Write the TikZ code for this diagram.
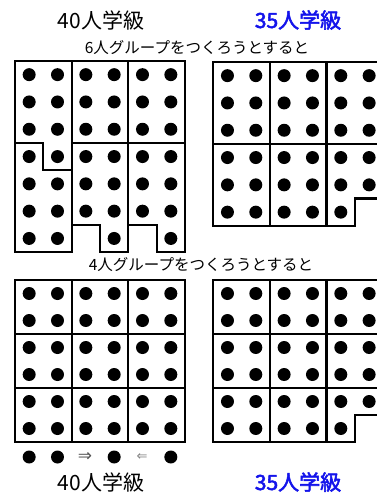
\documentclass[tikz,border=0pt]{standalone}
\usepackage{fontspec}
\newfontfamily\jp{Noto Sans CJK JP}
\newfontfamily\jpb[FakeBold=2.5]{Noto Sans CJK JP}
\newfontfamily\dv{DejaVu Sans}
\definecolor{titleblue}{RGB}{20,20,235}
\definecolor{arrowdark}{RGB}{85,85,85}
\definecolor{arrowlight}{RGB}{130,130,130}
\begin{document}
\begin{tikzpicture}[x=1pt,y=-1pt,
  grid/.style={line width=2.3pt, line join=miter, line cap=rect},
  title/.style={font=\jp\fontsize{21}{21}\selectfont, inner sep=0pt},
  titleb/.style={font=\jpb\fontsize{21}{21}\selectfont, text=titleblue, inner sep=0pt},
  sub/.style={font=\jp\fontsize{15.5}{15.5}\selectfont, inner sep=0pt}]
\useasboundingbox (0,0) rectangle (377,493);
\clip (0,0) rectangle (377,493);

% titles
\node[title]  (t40top) at (101,20) {40人学級};
\node[titleb] (t35top) at (298,20) {35人学級};
\node[sub]    (sub6)   at (197,48) {6人グループをつくろうとすると};
\node[sub]    (sub4)   at (201,265) {4人グループをつくろうとすると};
\node[title]  (t40bot) at (101,482) {40人学級};
\node[titleb] (t35bot) at (298,482) {35人学級};

% ---------- top-left: 40 students, groups of 6
\draw[grid] (15,61) -- (185,61) -- (185,252.1) -- (156.67,252.1) -- (156.67,224.8)
  -- (128.33,224.8) -- (128.33,252.1) -- (100,252.1) -- (100,224.8) -- (71.67,224.8)
  -- (71.67,252.1) -- (15,252.1) -- cycle;
\draw[grid] (71.67,61) -- (71.67,252.1);
\draw[grid] (128.33,61) -- (128.33,252.1);
\draw[grid] (15,142.9) -- (43.33,142.9) -- (43.33,170.2) -- (71.67,170.2);
\draw[grid] (71.67,142.9) -- (185,142.9);
\foreach \r in {1,...,6}{\foreach \c in {1,...,6}{
  \fill (15+\c*28.333-14.167, 61+\r*27.3-13.65) circle[radius=6.5pt];}}
\foreach \c in {1,2,4,6}{\fill (15+\c*28.333-14.167, 61+7*27.3-13.65) circle[radius=6.5pt];}

% ---------- top-right: 35 students, groups of 6
\draw[grid] (213.3,62) -- (383.3,62) -- (383.3,198.5) -- (355,198.5) -- (355,225.8)
  -- (213.3,225.8) -- cycle;
\draw[grid] (270,62) -- (270,225.8);
\draw[grid] (326.6,62) -- (326.6,225.8);
\draw[grid] (213.3,143.9) -- (383.3,143.9);
\foreach \r in {1,...,5}{\foreach \c in {1,...,6}{
  \fill (213.3+\c*28.333-14.167, 62+\r*27.3-13.65) circle[radius=6.5pt];}}
\foreach \c in {1,...,5}{\fill (213.3+\c*28.333-14.167, 62+6*27.3-13.65) circle[radius=6.5pt];}

% ---------- bottom-left: 40 students, groups of 4
\draw[grid] (15,280) rectangle (185,442);
\draw[grid] (71.67,280) -- (71.67,442);
\draw[grid] (128.33,280) -- (128.33,442);
\draw[grid] (15,334) -- (185,334);
\draw[grid] (15,388) -- (185,388);
\foreach \r in {1,...,6}{\foreach \c in {1,...,6}{
  \fill (15+\c*28.333-14.167, 280+\r*27-13.5) circle[radius=6.5pt];}}
\foreach \c in {1,2,4,6}{\fill (15+\c*28.333-14.167, 457) circle[radius=6.5pt];}
\node[font=\dv\fontsize{17}{17}\selectfont, text=arrowdark, inner sep=0pt] (arrR) at (85,457) {⇒};
\node[font=\dv\fontsize{13}{13}\selectfont, text=arrowlight, inner sep=0pt] (arrL) at (142,457) {⇐};

% ---------- bottom-right: 35 students, groups of 4
\draw[grid] (213.3,280) -- (383.3,280) -- (383.3,415) -- (355,415) -- (355,442)
  -- (213.3,442) -- cycle;
\draw[grid] (270,280) -- (270,442);
\draw[grid] (326.6,280) -- (326.6,442);
\draw[grid] (213.3,334) -- (383.3,334);
\draw[grid] (213.3,388) -- (383.3,388);
\foreach \r in {1,...,5}{\foreach \c in {1,...,6}{
  \fill (213.3+\c*28.333-14.167, 280+\r*27-13.5) circle[radius=6.5pt];}}
\foreach \c in {1,...,5}{\fill (213.3+\c*28.333-14.167, 280+6*27-13.5) circle[radius=6.5pt];}
\end{tikzpicture}
\end{document}
